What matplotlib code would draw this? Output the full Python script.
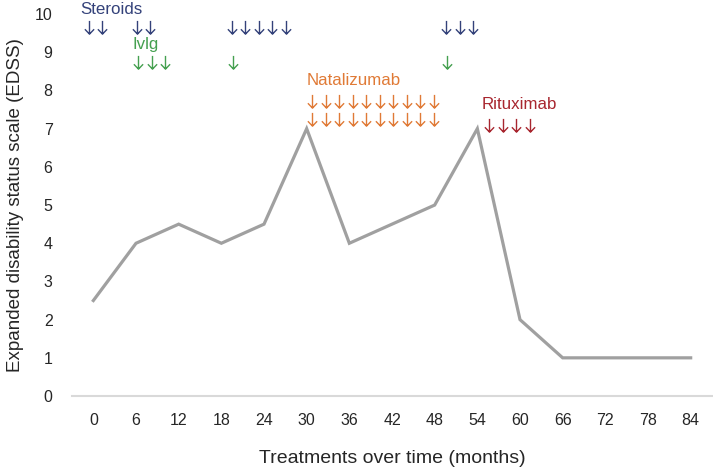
import matplotlib.pyplot as plt
from matplotlib.path import Path

plt.rcParams['font.family'] = ['Liberation Sans', 'DejaVu Sans']

months = [0, 6, 12, 18, 24, 30, 36, 42, 48, 54, 60, 66, 72, 78, 84]
edss = [2.5, 4, 4.5, 4, 4.5, 7, 4, 4.5, 5, 7, 2, 1, 1, 1, 1]

# treatment arrows: (first month, number of arrows)
steroids = [(-0.65, 2), (6.1, 2), (19.45, 5), (49.6, 3)]
ivig = [(6.3, 3), (19.6, 1), (49.7, 1)]
natalizumab = [(30.8, 10)]
rituximab = [(55.7, 4)]

fig = plt.figure(figsize=(7.13, 4.70), dpi=100)
ax = fig.add_axes([0.101, 0.1574, 0.8976, 0.8126])

ax.plot(months, edss, color='#A0A0A0', lw=2.3, solid_joinstyle='miter')

ax.set_xlim(-3, 87)
ax.set_ylim(0, 10)
ax.set_xticks(months)
ax.set_yticks(range(0, 11))
ax.tick_params(length=0, labelsize=11.5, colors='#262626', pad=12)
ax.tick_params(axis='y', pad=14)
for s in ['top', 'right', 'left']:
    ax.spines[s].set_visible(False)
ax.spines['bottom'].set_color('#D9D9D9')
ax.spines['bottom'].set_linewidth(1.5)

ax.set_xlabel('Treatments over time (months)', fontsize=14, color='#262626', labelpad=16)
ax.set_ylabel('Expanded disability status scale (EDSS)', fontsize=13.5, color='#262626', labelpad=8)

step = 1.9

# down arrow marker: stem plus open chevron head
arrow = Path([(0, 0.6), (0, -0.6), (-0.42, -0.16), (0, -0.6), (0.42, -0.16)],
             [Path.MOVETO, Path.LINETO, Path.MOVETO, Path.LINETO, Path.LINETO])


def arrows(groups, y, color):
    xs = [start + k * step for start, n in groups for k in range(n)]
    ax.plot(xs, [y] * len(xs), ls='none', marker=arrow, markersize=9.5,
            mec=color, mfc='none', mew=1.0, clip_on=False)


navy = '#34427A'
green = '#45A050'
orange = '#E07A36'
red = '#A8262F'

ax.text(-1.8, 10.12, 'Steroids', color=navy, fontsize=12.2, va='center', ha='left')
arrows(steroids, 9.67, navy)
ax.text(5.55, 9.21, 'Ivlg', color=green, fontsize=12.2, va='center', ha='left')
arrows(ivig, 8.74, green)
ax.text(30.0, 8.27, 'Natalizumab', color=orange, fontsize=12.2, va='center', ha='left')
arrows(natalizumab, 7.72, orange)
arrows(natalizumab, 7.25, orange)
ax.text(54.6, 7.62, 'Rituximab', color=red, fontsize=12.2, va='center', ha='left')
arrows(rituximab, 7.09, red)

fig.savefig('out.png', dpi=100)
